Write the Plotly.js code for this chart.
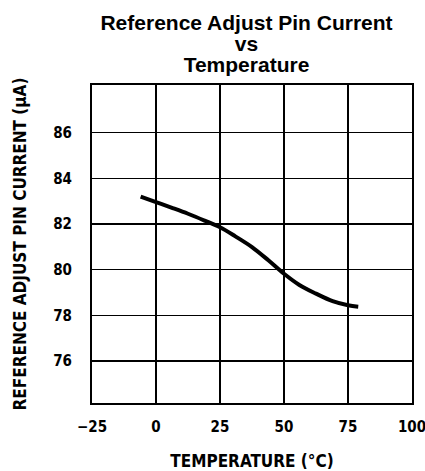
<!DOCTYPE html>
<html>
<head>
<meta charset="utf-8">
<script src="https://cdn.plot.ly/plotly-3.0.1.min.js"></script>
<style>html,body{margin:0;padding:0;background:#fff;}#chart{width:425px;height:471px;}</style>
</head>
<body>
<div id="chart"></div>
<script>
const temperature = [-6, 0, 6, 12.5, 19, 25, 31, 37.5, 44, 50, 56, 62.5, 69, 75, 79];
const pinCurrent = [83.2, 82.96, 82.72, 82.45, 82.15, 81.86, 81.46, 80.99, 80.4, 79.82, 79.33, 78.95, 78.62, 78.44, 78.38];
const xTicks = [-25, 0, 25, 50, 75, 100];
const xTickText = ['\u221225', '0', '25', '50', '75', '100'];
const yTicks = [76, 78, 80, 82, 84, 86];
const titleLines = ['Reference Adjust Pin Current', 'vs', 'Temperature'];

const condensed = '"Liberation Sans Narrow", "DejaVu Sans Condensed", Arial, sans-serif';
const titleText = titleLines.map(s => '<b><span style="font-size:21px">' + s + '</span></b>').join('<br>');

Plotly.newPlot('chart', [{
  x: temperature,
  y: pinCurrent,
  type: 'scatter',
  mode: 'lines',
  line: {color: '#000', width: 4, shape: 'spline'},
  hoverinfo: 'skip'
}], {
  width: 425, height: 471,
  margin: {l: 92, r: 13, t: 85, b: 68},
  paper_bgcolor: '#fff', plot_bgcolor: '#fff',
  showlegend: false,
  title: {
    text: titleText,
    font: {family: '"Liberation Sans", Arial, sans-serif', size: 16, color: '#000'},
    x: 0.58, xanchor: 'center', xref: 'container',
    y: 0.936, yanchor: 'top', yref: 'container'
  },
  xaxis: {
    range: [-25, 100],
    tickvals: xTicks, ticktext: xTickText,
    showgrid: true, gridcolor: '#000', gridwidth: 1.3,
    zeroline: false, showline: true, linecolor: '#000', linewidth: 2, mirror: true,
    ticks: '', tickfont: {family: condensed, size: 15, color: '#000', weight: 'bold'},
    ticklabelstandoff: 9, ticklabeloverflow: 'allow',
    title: {text: '<b>TEMPERATURE (°C)</b>', font: {family: condensed, size: 17, color: '#000'}, standoff: 20},
    fixedrange: true
  },
  yaxis: {
    range: [74.16, 88.09],
    tickvals: yTicks,
    showgrid: true, gridcolor: '#000', gridwidth: 1.3,
    zeroline: false, showline: true, linecolor: '#000', linewidth: 2, mirror: true,
    ticks: '', tickfont: {family: condensed, size: 15, color: '#000', weight: 'bold'},
    ticklabelstandoff: 15,
    title: {text: '<b>REFERENCE ADJUST PIN CURRENT (μA)</b>', font: {family: condensed, size: 17, color: '#000'}, standoff: 22},
    fixedrange: true
  }
}, {displayModeBar: false, staticPlot: true});
</script>
</body>
</html>
